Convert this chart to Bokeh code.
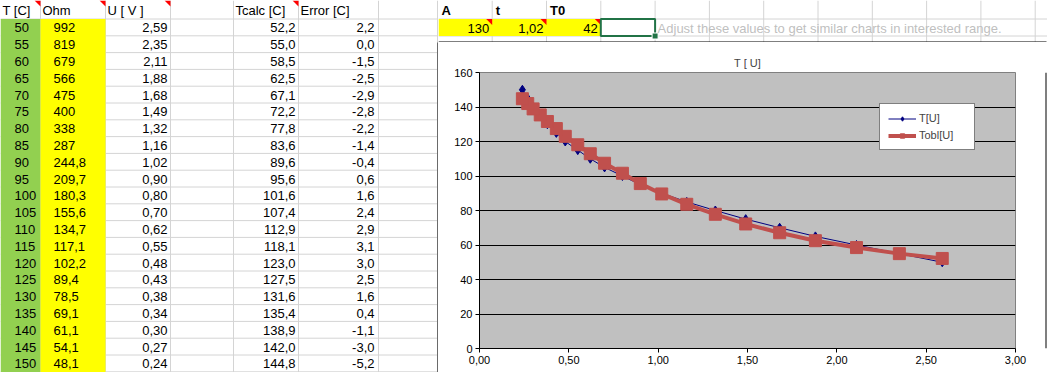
from bokeh.plotting import figure
from bokeh.layouts import row, column
from bokeh.models import Range1d, FixedTicker, CustomJSTickFormatter, Legend, LegendItem
from bokeh.core.properties import value
from bokeh.embed import file_html
from bokeh.resources import INLINE

# ---------------- data ----------------
T_C = [50, 55, 60, 65, 70, 75, 80, 85, 90, 95, 100, 105, 110, 115, 120, 125,
       130, 135, 140, 145, 150]
OHM = [992, 819, 679, 566, 475, 400, 338, 287, 244.8, 209.7, 180.3, 155.6,
       134.7, 117.1, 102.2, 89.4, 78.5, 69.1, 61.1, 54.1, 48.1]
U_V = [2.59, 2.35, 2.11, 1.88, 1.68, 1.49, 1.32, 1.16, 1.02, 0.90, 0.80, 0.70,
       0.62, 0.55, 0.48, 0.43, 0.38, 0.34, 0.30, 0.27, 0.24]
T_CALC = [52.2, 55.0, 58.5, 62.5, 67.1, 72.2, 77.8, 83.6, 89.6, 95.6, 101.6,
          107.4, 112.9, 118.1, 123.0, 127.5, 131.6, 135.4, 138.9, 142.0, 144.8]
ERROR_C = [2.2, 0.0, -1.5, -2.5, -2.9, -2.8, -2.2, -1.4, -0.4, 0.6, 1.6, 2.4,
           2.9, 3.1, 3.0, 2.5, 1.6, 0.4, -1.1, -3.0, -5.2]
HEADERS = ["T [C]", "Ohm", "U [ V ]", "", "Tcalc [C]", "Error [C]", ""]
PARAM_NAMES = ["A", "t", "T0"]
PARAM_VALUES = ["130", "1,02", "42"]
NOTE = "Adjust these values to get similar charts in interested range."
CHART_TITLE = "T [ U]"
SERIES_NAMES = ["T[U]", "Tobl[U]"]
X_TICKS = [0, 0.5, 1.0, 1.5, 2.0, 2.5, 3.0]
Y_TICKS = [0, 20, 40, 60, 80, 100, 120, 140, 160]

# ---------------- style ----------------
FONT = "Liberation Sans"
GRID = "#D4D4D4"
GREEN = "#92D050"
YELLOW = "#FFFF00"
NAVY = "#000080"
RED = "#C0504D"


def fmt(v, d):
    return f"{v:.{d}f}".replace(".", ",")


def fmt_ohm(v):
    return str(int(v)) if float(v).is_integer() else fmt(v, 1)


def sheet_fig(w, h, x0, x1, y0, y1):
    f = figure(width=w, height=h, x_range=Range1d(x0, x1), y_range=Range1d(y1, y0),
               x_axis_location=None, y_axis_location=None, toolbar_location=None,
               output_backend="svg", min_border=0, outline_line_color=None)
    for g in f.grid:
        g.visible = False
    return f


common = dict(text_baseline="middle", text_font=value(FONT), text_font_size="13px", text_color="black")

# ---------------- table (left) ----------------
COL_EDGES = [0, 40, 105, 170, 233, 298, 378, 437]
HEAD_B = 18.5
ROW_H = 16.8
n = len(T_C)

tf = sheet_fig(438, 372, 0, 438, 0, 372)
hy = [HEAD_B + k * ROW_H for k in range(n + 1)]
tf.segment(x0=[0] * len(hy), y0=hy, x1=[438] * len(hy), y1=hy, line_color=GRID, line_width=1)
vx = COL_EDGES[1:]
tf.segment(x0=vx, y0=[0] * len(vx), x1=vx, y1=[372] * len(vx), line_color=GRID, line_width=1)
tf.quad(left=[0], right=[40], top=[HEAD_B], bottom=[372], fill_color=GREEN, line_color=None)
tf.quad(left=[40], right=[105], top=[HEAD_B], bottom=[372], fill_color=YELLOW, line_color=None)
cm = [40, 105, 170, 298]
tf.patches(xs=[[e - 6, e, e] for e in cm], ys=[[0, 0, 6] for _ in cm], fill_color="#FF0000", line_color=None)
tf.text(x=[e + 2 for e in COL_EDGES[:-1]], y=[HEAD_B / 2 + 0.5] * 7, text=HEADERS, **common)
ry = [HEAD_B + (k + 0.5) * ROW_H + 0.5 for k in range(n)]
tf.text(x=[14] * n, y=ry, text=[str(v) for v in T_C], text_align="left", **common)
tf.text(x=[53] * n, y=ry, text=[fmt_ohm(v) for v in OHM], text_align="left", **common)
tf.text(x=[167] * n, y=ry, text=[fmt(v, 2) for v in U_V], text_align="right", **common)
tf.text(x=[295] * n, y=ry, text=[fmt(v, 1) for v in T_CALC], text_align="right", **common)
tf.text(x=[374] * n, y=ry, text=[fmt(v, 1) for v in ERROR_C], text_align="right", **common)
# left border of the chart box
tf.quad(left=[437], right=[438], top=[42], bottom=[372], fill_color="black", line_color=None)

# ---------------- header cells (top right) ----------------
C0 = 437.4
CW = 54.3
hf = sheet_fig(609, 42, 438, 1047, 0, 42)
cx = [C0 + k * CW for k in range(1, 12)]
hf.segment(x0=cx, y0=[0] * len(cx), x1=cx, y1=[42] * len(cx), line_color=GRID)
hf.segment(x0=[438, 438], y0=[HEAD_B, HEAD_B + 17], x1=[1047, 1047], y1=[HEAD_B, HEAD_B + 17], line_color=GRID)
hf.quad(left=[438], right=[C0 + 3 * CW], top=[HEAD_B], bottom=[HEAD_B + 17], fill_color=YELLOW, line_color=None)
pr = [C0 + (k + 1) * CW for k in range(3)]
hf.patches(xs=[[e - 6, e, e] for e in pr], ys=[[HEAD_B, HEAD_B, HEAD_B + 6] for _ in pr],
           fill_color="#FF0000", line_color=None)
hf.text(x=[C0 + k * CW + 3.5 for k in range(3)], y=[HEAD_B / 2 + 0.5] * 3, text=PARAM_NAMES,
        text_font_style="bold", **common)
hf.text(x=[e - 3 for e in pr], y=[HEAD_B + 17 / 2 + 0.5] * 3, text=PARAM_VALUES, text_align="right", **common)
hf.quad(left=[C0 + 3 * CW], right=[C0 + 4 * CW], top=[HEAD_B], bottom=[HEAD_B + 17],
        fill_color=None, line_color="#217346", line_width=2)
hf.scatter(x=[C0 + 4 * CW], y=[HEAD_B + 17], marker="square", size=6, fill_color="#217346",
           line_color="white", line_width=1)
hf.text(x=[C0 + 4 * CW + 2.5], y=[HEAD_B + 17 / 2 + 0.5], text=[NOTE], text_align="left",
        text_baseline="middle", text_font=value(FONT), text_font_size="13px", text_color="#BFBFBF")
# top border of the chart box
hf.quad(left=[438], right=[1046], top=[41], bottom=[42], fill_color="black", line_color=None)

# ---------------- chart ----------------
cf = figure(width=606, height=330, x_range=Range1d(0, 3), y_range=Range1d(0, 160),
            toolbar_location=None, output_backend="svg",
            min_border_left=41, min_border_right=29, min_border_top=30, min_border_bottom=24,
            background_fill_color="#C0C0C0", border_fill_color="white",
            outline_line_color="#808080")
cf.title.text = CHART_TITLE
cf.title.align = "center"
cf.title.text_font = FONT
cf.title.text_font_size = "11px"
cf.title.text_font_style = "normal"
cf.title.standoff = 7

cf.xaxis.ticker = FixedTicker(ticks=X_TICKS)
cf.xaxis.formatter = CustomJSTickFormatter(code="return tick.toFixed(2).replace('.', ',');")
cf.yaxis.ticker = FixedTicker(ticks=Y_TICKS)
for ax in (cf.xaxis, cf.yaxis):
    ax.axis_line_color = "black"
    ax.major_tick_line_color = "black"
    ax.major_tick_out = 4
    ax.major_tick_in = 0
    ax.minor_tick_line_color = None
    ax.major_label_text_font = FONT
    ax.major_label_text_font_size = "11px"
    ax.major_label_text_color = "black"
    ax.major_label_standoff = 3
cf.xgrid.visible = False
cf.ygrid.ticker = FixedTicker(ticks=Y_TICKS[1:-1])
cf.ygrid.grid_line_color = "black"
cf.ygrid.grid_line_width = 1

bl = cf.line(U_V, T_C, line_color=NAVY, line_width=1)
bs = cf.scatter(U_V, T_C, marker="diamond", size=9, fill_color=NAVY, line_color=NAVY)
rl = cf.line(U_V, T_CALC, line_color=RED, line_width=4)
rs = cf.scatter(U_V, T_CALC, marker="square", size=12, fill_color=RED, line_color=RED)

legend = Legend(items=[LegendItem(label=SERIES_NAMES[0], renderers=[bl, bs]),
                       LegendItem(label=SERIES_NAMES[1], renderers=[rl, rs])],
                location=(400, 198), border_line_color="black", border_line_width=1,
                background_fill_color="white", background_fill_alpha=1,
                label_text_font=FONT, label_text_font_size="11px",
                glyph_width=28, glyph_height=11, label_height=11, spacing=5,
                padding=8, margin=0, label_standoff=3, label_width=47)
cf.add_layout(legend)

# right border of the chart box
rf = sheet_fig(3, 330, 1044, 1047, 42, 372)
rf.quad(left=[1045], right=[1046], top=[42], bottom=[372], fill_color="black", line_color=None)

layout = row(tf, column(hf, row(cf, rf, spacing=0), spacing=0), spacing=0)
open("out.html", "w").write(file_html(layout, INLINE))
